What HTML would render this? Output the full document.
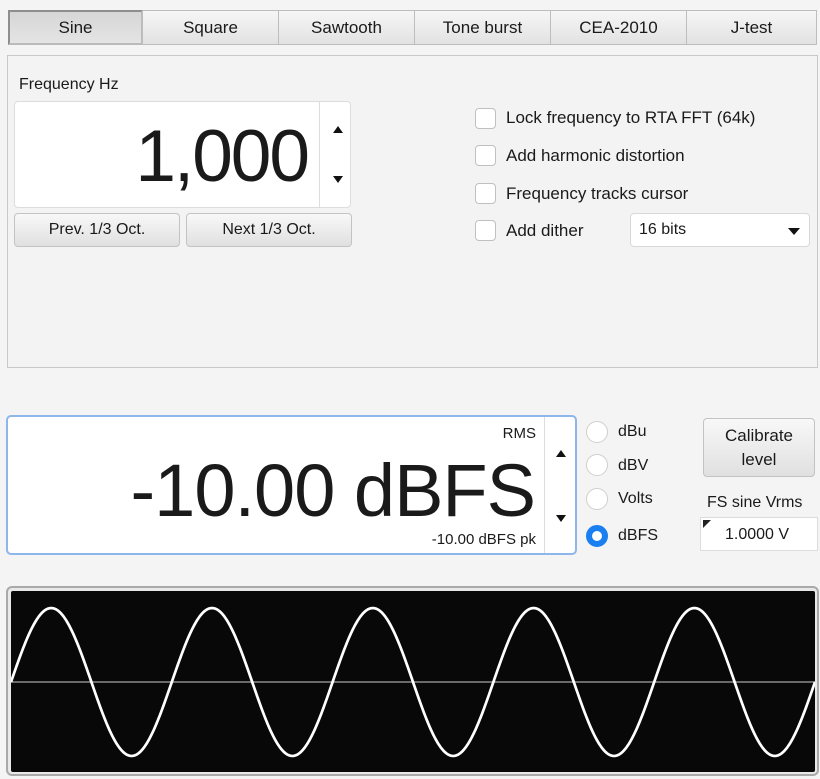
<!DOCTYPE html>
<html><head><meta charset="utf-8"><style>
*{box-sizing:border-box;margin:0;padding:0}
body{width:820px;height:779px;background:#f4f4f4;font-family:"Liberation Sans",sans-serif;color:#1a1a1a;position:relative;overflow:hidden}
.a{position:absolute}
.tab{position:absolute;top:10px;height:35px;background:linear-gradient(#f6f6f6,#e2e2e2);border:1px solid #bdbdbd;font-size:17px;display:flex;align-items:center;justify-content:center}
.tab.sel{background:linear-gradient(#d6d6d6,#e4e4e4);border:2px solid #8e8e8e;border-right-color:#bbb;border-bottom-color:#bbb}
.btn{position:absolute;background:linear-gradient(#f8f8f8,#e0e0e0);border:1px solid #c3c3c3;border-radius:4px;font-size:16px;display:flex;align-items:center;justify-content:center;text-align:center}
.cb{position:absolute;left:475px;width:21px;height:21px;border:1px solid #c0c0c0;border-radius:4px;background:#fff}
.lbl{position:absolute;font-size:17px;white-space:nowrap}
.rd{position:absolute;left:586px;width:22px;height:22px;border-radius:50%;border:1px solid #cfcfcf;background:#fff}
.tri-up{width:0;height:0;border-left:5px solid transparent;border-right:5px solid transparent;border-bottom:7px solid #111}
.tri-dn{width:0;height:0;border-left:5px solid transparent;border-right:5px solid transparent;border-top:7px solid #111}
</style></head><body>
<div class="tab sel" style="left:8px;width:135px">Sine</div>
<div class="tab" style="left:142px;width:137px">Square</div>
<div class="tab" style="left:278px;width:137px">Sawtooth</div>
<div class="tab" style="left:414px;width:137px">Tone burst</div>
<div class="tab" style="left:550px;width:137px">CEA-2010</div>
<div class="tab" style="left:686px;width:131px">J-test</div>

<div class="a" style="left:7px;top:55px;width:811px;height:313px;border:1px solid #c8c8c8;background:#f3f3f3"></div>
<div class="lbl" style="left:19px;top:76px;font-size:16px">Frequency Hz</div>
<div class="a" style="left:14px;top:101px;width:337px;height:107px;background:#fff;border:1px solid #dcdcdc;border-radius:4px">
 <div class="a" style="right:42px;top:15px;font-size:73px;letter-spacing:-2px;line-height:80px">1,000</div>
 <div class="a" style="left:304px;top:0;width:1px;height:105px;background:#ddd"></div>
 <div class="a tri-up" style="left:318px;top:24px"></div>
 <div class="a tri-dn" style="left:318px;top:74px"></div>
</div>
<div class="btn" style="left:14px;top:213px;width:166px;height:34px">Prev. 1/3 Oct.</div>
<div class="btn" style="left:186px;top:213px;width:166px;height:34px">Next 1/3 Oct.</div>

<div class="cb" style="top:108px"></div>
<div class="lbl" style="left:506px;top:108px">Lock frequency to RTA FFT (64k)</div>
<div class="cb" style="top:145px"></div>
<div class="lbl" style="left:506px;top:146px">Add harmonic distortion</div>
<div class="cb" style="top:183px"></div>
<div class="lbl" style="left:506px;top:184px">Frequency tracks cursor</div>
<div class="cb" style="top:220px"></div>
<div class="lbl" style="left:506px;top:221px">Add dither</div>
<div class="a" style="left:630px;top:213px;width:180px;height:34px;background:#fff;border:1px solid #d8d8d8;border-radius:4px">
 <div class="lbl" style="left:8px;top:7px;font-size:16px">16 bits</div>
 <div class="a tri-dn" style="left:157px;top:14px;border-left-width:6px;border-right-width:6px"></div>
</div>

<div class="a" style="left:6px;top:415px;width:571px;height:140px;background:#fff;border:2px solid #8fb6ea;border-radius:5px">
 <div class="a" style="right:39px;top:8px;font-size:15px">RMS</div>
 <div class="a" style="right:40px;top:34px;font-size:74px;letter-spacing:-1px;line-height:80px;white-space:nowrap">-10.00 dBFS</div>
 <div class="a" style="right:39px;top:114px;font-size:15px;white-space:nowrap">-10.00 dBFS pk</div>
 <div class="a" style="left:536px;top:0;width:1px;height:136px;background:#ddd"></div>
 <div class="a tri-up" style="left:548px;top:33px"></div>
 <div class="a tri-dn" style="left:548px;top:98px"></div>
</div>

<div class="rd" style="top:421px"></div>
<div class="lbl" style="left:618px;top:423px;font-size:16px">dBu</div>
<div class="rd" style="top:454px"></div>
<div class="lbl" style="left:618px;top:457px;font-size:16px">dBV</div>
<div class="rd" style="top:488px"></div>
<div class="lbl" style="left:618px;top:490px;font-size:16px">Volts</div>
<div class="rd" style="top:525px;border:6px solid #1a7ff0;background:#fff"></div>
<div class="lbl" style="left:618px;top:527px;font-size:16px">dBFS</div>

<div class="btn" style="left:703px;top:418px;width:112px;height:59px;line-height:24px;font-size:17px">Calibrate<br>level</div>
<div class="lbl" style="left:707px;top:494px;font-size:16px">FS sine Vrms</div>
<div class="a" style="left:700px;top:517px;width:118px;height:34px;background:#fff;border:1px solid #dcdcdc">
 <div class="a" style="left:2px;top:2px;width:0;height:0;border-top:8px solid #222;border-right:8px solid transparent"></div>
 <div class="lbl" style="left:24px;top:8px;font-size:16px">1.0000 V</div>
</div>

<div class="a" style="left:6px;top:586px;width:813px;height:190px;border:2px solid #a9a9a9;border-radius:6px;background:#e8e8e8"></div>
<svg class="a" style="left:11px;top:591px" width="804" height="181">
 <rect width="804" height="181" fill="#080808" rx="2"/>
 <g id="wv"></g>
</svg>
<script>
const levelDbfs = [-10.0];
const cycles = [5];
const fullScale = [0.387];
const W = 804, H = 181, zeroY = 91;
function yScale(v){ return zeroY - v / fullScale[0] * (H/2); }
function xScale(t){ return t * W; }
const g = document.getElementById('wv');
const ns = 'http://www.w3.org/2000/svg';
const zl = document.createElementNS(ns,'line');
zl.setAttribute('x1',0);zl.setAttribute('x2',W);zl.setAttribute('y1',yScale(0));zl.setAttribute('y2',yScale(0));
zl.setAttribute('stroke','#8a8a8a');zl.setAttribute('stroke-width','1.5');


g.appendChild(zl);
const amp = Math.pow(10, levelDbfs[0]/20);
let d = '';
for (let i = 0; i <= 800; i++) {
  const t = i / 800;
  const v = amp * Math.sin(2 * Math.PI * cycles[0] * t);
  d += (i ? 'L' : 'M') + xScale(t).toFixed(2) + ' ' + yScale(v).toFixed(2);
}
const p = document.createElementNS(ns,'path');
p.setAttribute('d', d);
p.setAttribute('fill','none');p.setAttribute('stroke','#fff');p.setAttribute('stroke-width','2.7');


g.appendChild(p);
</script>
</body></html>
